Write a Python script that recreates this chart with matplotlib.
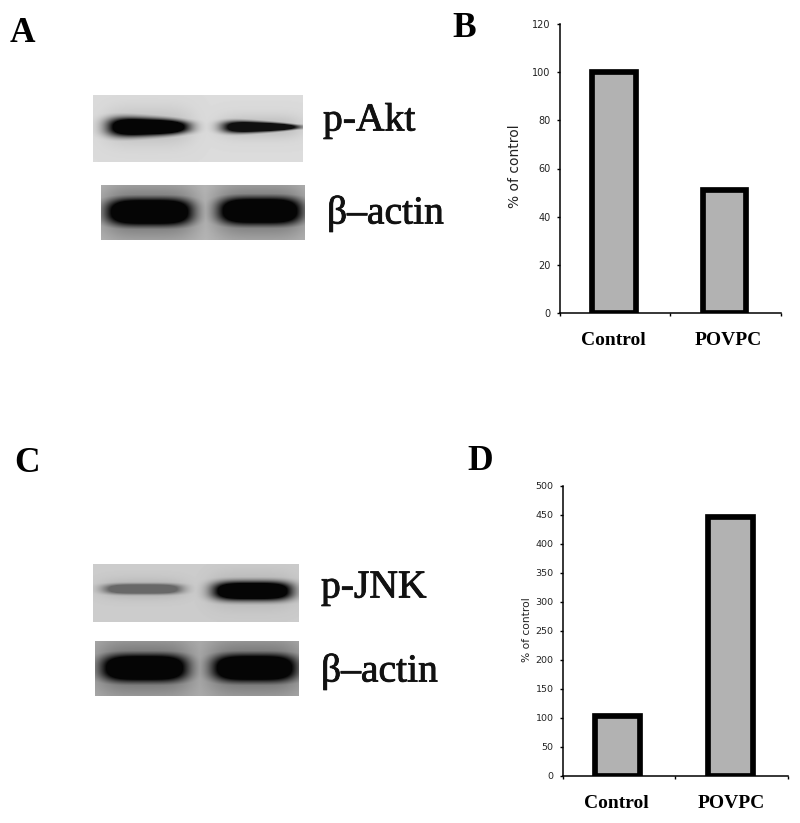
import numpy as np
import matplotlib
matplotlib.use("Agg")
import matplotlib.pyplot as plt
import matplotlib.patheffects as pe

W, H = 800, 823
categories = ["Control", "POVPC"]
akt_values = [100, 51]
jnk_values = [103, 446]
akt_ticks = [0, 20, 40, 60, 80, 100, 120]
jnk_ticks = [0, 50, 100, 150, 200, 250, 300, 350, 400, 450, 500]
ylabel = "% of control"
panel_letters = {"A": (10, 33), "B": (452, 28), "C": (14, 463), "D": (467, 461)}

# blot: extent (x0, x1, y0, y1), background, halo, bands (x0, x1, yc, half-height, darkness, taper)
blots = [
    dict(box=(93, 303, 95, 162), bg=0.86, halo=0.15,
         bands=[(109, 188, 127, 9.5, 1.0, 0.35), (224, 298, 127, 6, 0.95, 0.6)]),
    dict(box=(101, 305, 185, 240), bg=0.72, halo=0.45,
         bands=[(107, 192, 212, 13.5, 1.0, 0.0), (219, 301, 211, 13.5, 1.0, 0.0)]),
    dict(box=(93, 299, 564, 622), bg=0.80, halo=0.15,
         bands=[(105, 181, 589, 5, 0.50, 0.0), (214, 291, 591, 9, 1.0, 0.0)]),
    dict(box=(95, 299, 641, 696), bg=0.68, halo=0.45,
         bands=[(102, 187, 668, 13.5, 1.0, 0.0), (213, 296, 668, 13.5, 1.0, 0.0)]),
]
blot_labels = [("p-Akt", 323, 121), ("β–actin", 327, 214),
               ("p-JNK", 321, 588), ("β–actin", 321, 672)]


def render_blot(b):
    x0, x1, y0, y1 = b["box"]
    xs, ys = np.meshgrid(np.arange(x0, x1) + .5, np.arange(y0, y1) + .5)
    dark = np.zeros_like(xs)
    for bx0, bx1, yc, hh, d, taper in b["bands"]:
        cx, half = (bx0 + bx1) / 2, (bx1 - bx0) / 2
        u = (xs - cx) / half
        local = hh * (1 - taper * np.clip((u + 1) / 2, 0, 1) ** 1.5)
        v = (ys - yc) / local
        core = np.clip(1.9 * np.exp(-(np.abs(u) ** 4 + np.abs(v) ** 2.5)), 0, 1) * d
        soft = b["halo"] * np.exp(-((np.abs(u) / 1.12) ** 4 + ((ys - yc) / (hh * 1.9)) ** 2))
        dark = np.maximum(dark, np.maximum(core, soft))
    return b["bg"] * (1 - dark) + 0.02 * dark


def bar_panel(left, right, top, bottom, vals, ticks, ymax, fs, lab_fs, lab_x, lab_y):
    ax = fig.add_axes([left / W, 1 - bottom / H, (right - left) / W, (bottom - top) / H])
    ax.bar([0.49, 1.49], vals, width=0.395, color="#b2b2b2", edgecolor="black", linewidth=4.1, joinstyle="miter")
    ax.set_xlim(0, 2)
    ax.set_ylim(0, ymax)
    ax.set_xticks([0, 1, 2], ["", "", ""])
    ax.set_yticks(ticks)
    ax.tick_params(axis="y", length=2.5, width=1, labelsize=fs, pad=4, labelcolor="#222222")
    ax.tick_params(axis="x", length=2.5, width=1)
    for s in ("top", "right"):
        ax.spines[s].set_visible(False)
    for s in ("left", "bottom"):
        ax.spines[s].set_linewidth(1.1)
    ax.patch.set_alpha(0)
    ax.set_ylabel(ylabel, fontsize=lab_fs, color="#222222", va="center")
    ax.yaxis.set_label_coords((lab_x - left) / (right - left), (bottom - lab_y) / (bottom - top))
    return ax


fig = plt.figure(figsize=(W / 100, H / 100), dpi=100, facecolor="white")
bg = fig.add_axes([0, 0, 1, 1])
bg.axis("off")

for b in blots:
    x0, x1, y0, y1 = b["box"]
    bg.imshow(render_blot(b), extent=(x0, x1, y1, y0), cmap="gray", vmin=0, vmax=1,
              interpolation="bilinear", aspect="auto")
bg.set_xlim(0, W)
bg.set_ylim(H, 0)

serif = "Liberation Serif"
for letter, (x, y) in panel_letters.items():
    bg.text(x, y, letter, family=serif, weight="bold", fontsize=25.5, ha="left", va="center")
for text, x, y in blot_labels:
    bg.text(x, y, text, family=serif, fontsize=28.5, ha="left", va="center", color="#111111",
            path_effects=[pe.withStroke(linewidth=0.6, foreground="#111111")])

bar_panel(559.5, 781, 24, 313, akt_values, akt_ticks, 120, 7, 10, 515, 166)
bar_panel(562.5, 788, 485.5, 775.5, jnk_values, jnk_ticks, 500, 6.8, 7.7, 527, 630)

for name, x in zip(categories, (613, 728)):
    bg.text(x, 340, name, family=serif, weight="bold", fontsize=14, ha="center", va="center")
for name, x in zip(categories, (616, 731)):
    bg.text(x, 804, name, family=serif, weight="bold", fontsize=14, ha="center", va="center")

fig.savefig("out.png", dpi=100)
